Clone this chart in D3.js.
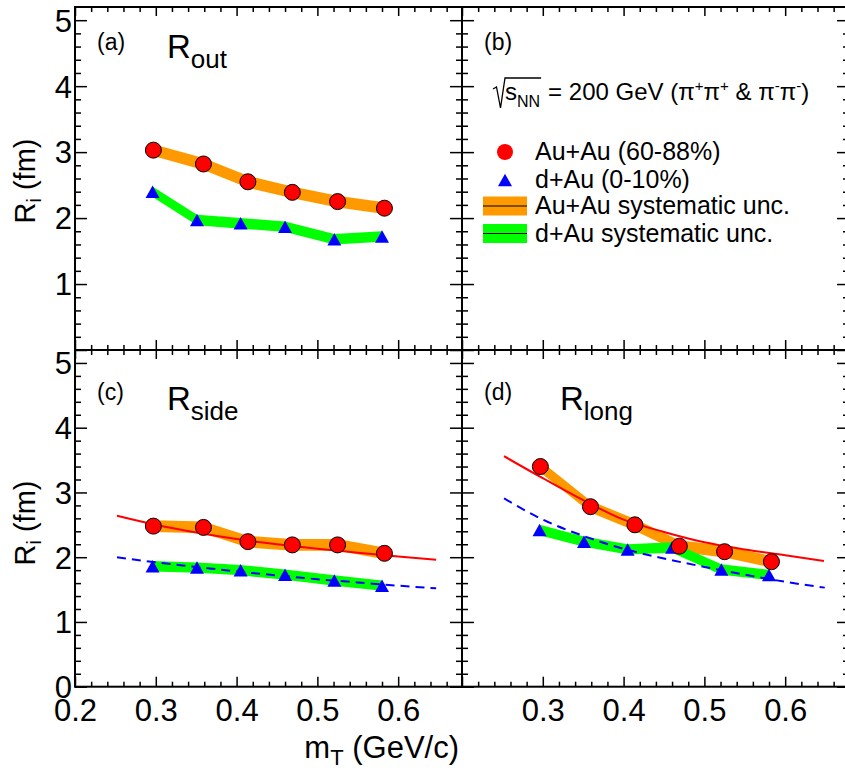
<!DOCTYPE html>
<html><head><meta charset="utf-8">
<script src="https://cdn.jsdelivr.net/npm/d3@7"></script>
<style>
body{margin:0;background:#fff;}
svg{display:block;font-family:"Liberation Sans",Arial,Helvetica,sans-serif;}
</style></head>
<body>
<script>
// ---------------- data ----------------
const mTAuAu = [0.297, 0.359, 0.414, 0.469, 0.525, 0.583];
const mTdAu  = [0.296, 0.351, 0.405, 0.460, 0.521, 0.580];

const routAuAu  = [3.03, 2.82, 2.55, 2.39, 2.25, 2.15];
const routdAu   = [2.40, 1.97, 1.92, 1.87, 1.68, 1.72];
const rsideAuAu = [2.48, 2.46, 2.24, 2.19, 2.19, 2.06];
const rsidedAu  = [1.86, 1.84, 1.80, 1.73, 1.64, 1.56];
const rlongAuAu = [3.40, 2.78, 2.50, 2.17, 2.085, 1.93];
const rlongdAu  = [2.42, 2.24, 2.12, 2.15, 1.81, 1.725];

const sysAuAu = [0.09, 0.09, 0.09, 0.09, 0.09, 0.09];
const sysdAu  = [0.08, 0.08, 0.08, 0.08, 0.08, 0.08];

// fit curves: [mT, R]
const fitSideAuAu = [[0.252,2.64],[0.30,2.50],[0.35,2.38],[0.40,2.28],[0.45,2.20],[0.50,2.13],[0.55,2.07],[0.60,2.01],[0.647,1.96]];
const fitSidedAu  = [[0.252,2.00],[0.30,1.92],[0.35,1.85],[0.40,1.78],[0.45,1.72],[0.50,1.66],[0.55,1.61],[0.60,1.56],[0.647,1.52]];
const fitLongAuAu = [[0.252,3.56],[0.30,3.22],[0.35,2.88],[0.40,2.58],[0.45,2.39],[0.50,2.23],[0.55,2.12],[0.60,2.03],[0.648,1.94]];
const fitLongdAu  = [[0.252,2.91],[0.30,2.58],[0.35,2.33],[0.40,2.13],[0.45,1.98],[0.50,1.85],[0.55,1.73],[0.60,1.62],[0.649,1.53]];

const xTicks = [0.2, 0.3, 0.4, 0.5, 0.6];
const yTicks = [0, 1, 2, 3, 4, 5];
const xDomain = [0.2, 0.679];
const yDomain = [0, 5.2];

const legendLabels = ["Au+Au (60-88%)", "d+Au (0-10%)", "Au+Au systematic unc.", "d+Au systematic unc."];

// ---------------- style ----------------
const ORANGE = "#ff9900", GREEN = "#00ff00", RED = "#ff0000", BLUE = "#0000ff";
const FONT_TICK = 31;

const svg = d3.select("body").append("svg").attr("width", 845).attr("height", 774);

const panels = [
  {id:"a", x0:75,  x1:462, y0:7,   y1:350,   xLab:false, yLab:[1,2,3,4,5], au:routAuAu,  da:routdAu,  label:"(a)", sub:"out"},
  {id:"b", x0:462, x1:849, y0:7,   y1:350,   xLab:false, yLab:[],          label:"(b)"},
  {id:"c", x0:75,  x1:462, y0:350, y1:686.7, xLab:[0.2,0.3,0.4,0.5,0.6], yLab:[0,1,2,3,4,5], au:rsideAuAu, da:rsidedAu, fitA:fitSideAuAu, fitD:fitSidedAu, label:"(c)", sub:"side"},
  {id:"d", x0:462, x1:849, y0:350, y1:686.7, xLab:[0.3,0.4,0.5,0.6], yLab:[], au:rlongAuAu, da:rlongdAu, fitA:fitLongAuAu, fitD:fitLongdAu, label:"(d)", sub:"long"}
];

const xMinor = d3.range(0.22, 0.679, 0.02).filter(v => Math.abs(v*10 - Math.round(v*10)) > 1e-6);
const yMinor = d3.range(0.2, 5.2, 0.2).filter(v => Math.abs(v - Math.round(v)) > 1e-6);

function triPath(cx, cy, s, h) {
  return `M${cx},${cy - h/2}L${cx + s/2},${cy + h/2}L${cx - s/2},${cy + h/2}Z`;
}

function styleAxis(sel, fs) {
  sel.select(".domain").remove();
  sel.selectAll("line").attr("stroke", "#000").attr("stroke-width", 1.5);
  sel.selectAll("text").attr("font-size", fs).attr("fill", "#000")
     .attr("font-family", '"Liberation Sans",Arial,sans-serif');
}

panels.forEach(p => {
  const x = d3.scaleLinear().domain(xDomain).range([p.x0, p.x1]);
  const y = d3.scaleLinear().domain(yDomain).range([p.y1, p.y0]);
  const g = svg.append("g");

  // ----- data -----
  const dg = g.append("g");
  if (p.au) {
    const aA = mTAuAu.map((m,i) => ({x:m, v:p.au[i], e:sysAuAu[i]}));
    const aD = mTdAu.map((m,i) => ({x:m, v:p.da[i], e:sysdAu[i]}));
    const area = d3.area().x(d => x(d.x)).y0(d => y(d.v - d.e)).y1(d => y(d.v + d.e));
    dg.append("path").attr("d", area(aA)).attr("fill", ORANGE);
    dg.append("path").attr("d", area(aD)).attr("fill", GREEN);
    const ln = d3.line().x(d => x(d[0])).y(d => y(d[1])).curve(d3.curveMonotoneX);
    if (p.fitA) {
      dg.append("path").attr("d", ln(p.fitA)).attr("fill","none").attr("stroke", RED).attr("stroke-width", 2);
      dg.append("path").attr("d", ln(p.fitD)).attr("fill","none").attr("stroke", BLUE).attr("stroke-width", 2)
        .attr("stroke-dasharray", "9,6");
    }
    dg.selectAll("path.tri").data(aD).join("path").attr("class","tri")
      .attr("d", d => triPath(x(d.x), y(d.v), 14, 12.5)).attr("fill", BLUE);
    dg.selectAll("circle").data(aA).join("circle")
      .attr("cx", d => x(d.x)).attr("cy", d => y(d.v)).attr("r", 8)
      .attr("fill", RED).attr("stroke", "#000").attr("stroke-width", 1);
  }

  // ----- axes (ticks inward on all sides) -----
  const fmtX = v => (p.xLab && p.xLab.some(t => Math.abs(t - v) < 1e-6)) ? d3.format(".1f")(v) : "";
  const fmtY = v => p.yLab.some(t => Math.abs(t - v) < 1e-6) ? d3.format("d")(v) : "";
  const ax = [];
  ax.push(g.append("g").attr("transform", `translate(0,${p.y1})`).call(d3.axisBottom(x).tickValues(xTicks).tickSize(-10).tickPadding(12).tickFormat(fmtX)));
  ax.push(g.append("g").attr("transform", `translate(0,${p.y1})`).call(d3.axisBottom(x).tickValues(xMinor).tickSize(-5).tickFormat("")));
  ax.push(g.append("g").attr("transform", `translate(0,${p.y0})`).call(d3.axisTop(x).tickValues(xTicks).tickSize(-9).tickFormat("")));
  ax.push(g.append("g").attr("transform", `translate(0,${p.y0})`).call(d3.axisTop(x).tickValues(xMinor).tickSize(-5).tickFormat("")));
  ax.push(g.append("g").attr("transform", `translate(${p.x0},0)`).call(d3.axisLeft(y).tickValues(yTicks).tickSize(-12).tickPadding(3).tickFormat(fmtY)));
  ax.push(g.append("g").attr("transform", `translate(${p.x0},0)`).call(d3.axisLeft(y).tickValues(yMinor).tickSize(-6).tickFormat("")));
  ax.push(g.append("g").attr("transform", `translate(${p.x1},0)`).call(d3.axisRight(y).tickValues(yTicks).tickSize(-12).tickFormat("")));
  ax.push(g.append("g").attr("transform", `translate(${p.x1},0)`).call(d3.axisRight(y).tickValues(yMinor).tickSize(-6).tickFormat("")));
  ax.forEach(a => styleAxis(a, FONT_TICK));
  ax[4].selectAll("text").attr("dy", "0.35em");

  // frame
  g.append("rect").attr("x", p.x0).attr("y", p.y0).attr("width", p.x1 - p.x0).attr("height", p.y1 - p.y0)
    .attr("fill", "none").attr("stroke", "#000").attr("stroke-width", 2);

  // panel label
  const lx = p.x0 + 22, top = p.y0;
  const isTop = p.y0 < 100;
  g.append("text").attr("x", lx).attr("y", top + (isTop ? 43 : 50)).attr("font-size", 23).text(p.label);
  if (p.sub) {
    const t = g.append("text").attr("x", p.x0 + (p.x0 < 100 ? 92 : 98)).attr("y", top + (isTop ? 51 : 60)).attr("font-size", 33);
    t.append("tspan").text("R");
    t.append("tspan").attr("dy", 10).attr("font-size", 26).text(p.sub);
  }
});

// ---------------- legend / text in panel (b) ----------------
{
  const lg = svg.append("g");
  // sqrt(s_NN)
  const t1 = lg.append("text").attr("x", 505).attr("y", 100).attr("font-size", 24);
  t1.append("tspan").text("s");
  t1.append("tspan").attr("dy", 7).attr("font-size", 16).text("NN");
  const w1 = t1.node().getBBox().width;
  const xe = 505 + w1 + 1;
  lg.append("path").attr("d", `M493,89L496.5,87L500.5,108L505,78L${xe},78`)
    .attr("fill", "none").attr("stroke", "#000").attr("stroke-width", 1.3);
  const t2 = lg.append("text").attr("x", xe + 7).attr("y", 100).attr("font-size", 24);
  t2.append("tspan").text("= 200 GeV (π");
  t2.append("tspan").attr("dy", -9).attr("font-size", 15).text("+");
  t2.append("tspan").attr("dy", 9).text("π");
  t2.append("tspan").attr("dy", -9).attr("font-size", 15).text("+");
  t2.append("tspan").attr("dy", 9).text(" & π");
  t2.append("tspan").attr("dy", -9).attr("font-size", 15).text("-");
  t2.append("tspan").attr("dy", 9).text("π");
  t2.append("tspan").attr("dy", -9).attr("font-size", 15).text("-");
  t2.append("tspan").attr("dy", 9).text(")");

  const rows = [152, 180, 206, 233.5];
  lg.append("circle").attr("cx", 505).attr("cy", rows[0]).attr("r", 8).attr("fill", RED);
  lg.append("path").attr("d", triPath(505, rows[1], 14, 12.5)).attr("fill", BLUE);
  [ORANGE, GREEN].forEach((c, i) => {
    const cy = rows[2 + i];
    lg.append("rect").attr("x", 483).attr("y", cy - 9.5).attr("width", 44).attr("height", 19).attr("fill", c);
    lg.append("line").attr("x1", 483).attr("x2", 527).attr("y1", cy).attr("y2", cy).attr("stroke", "#000").attr("stroke-width", 1);
  });
  legendLabels.forEach((s, i) => {
    lg.append("text").attr("x", 535).attr("y", rows[i] + 8).attr("font-size", 25).text(s);
  });
}

// ---------------- axis titles ----------------
[[181],[523]].forEach(([cy]) => {
  const t = svg.append("text").attr("transform", `translate(35,${cy}) rotate(-90)`)
    .attr("text-anchor", "middle").attr("font-size", 29);
  t.append("tspan").text("R");
  t.append("tspan").attr("dy", 6).attr("font-size", 20).text("i");
  t.append("tspan").attr("dy", -6).text(" (fm)");
});
{
  const t = svg.append("text").attr("x", 459).attr("y", 758).attr("text-anchor", "end").attr("font-size", 31);
  t.append("tspan").text("m");
  t.append("tspan").attr("dy", 7).attr("font-size", 22).text("T");
  t.append("tspan").attr("dy", -7).text(" (GeV/c)");
}
</script>
</body></html>
